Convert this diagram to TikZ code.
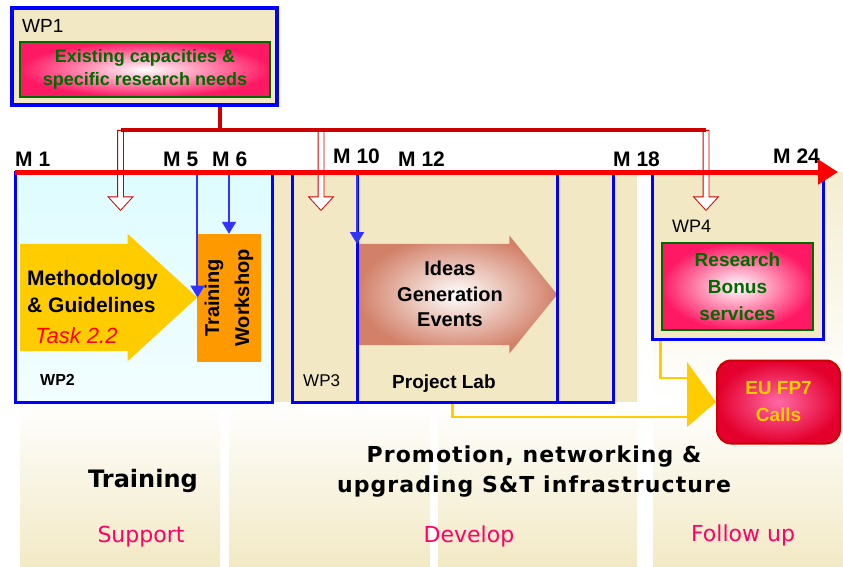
\documentclass[tikz,border=0pt]{standalone}
\usepackage{fontspec}
\setmainfont{Liberation Sans}
\newfontfamily\verd{DejaVu Sans}
\newfontfamily\verdwide[LetterSpace=5]{DejaVu Sans}
\usetikzlibrary{arrows.meta,shapes.arrows,calc}
\definecolor{wpblue}{RGB}{0,0,255}
\definecolor{lineblue}{RGB}{51,51,255}
\definecolor{beige}{RGB}{242,233,196}
\definecolor{paleblue}{RGB}{222,252,255}
\definecolor{hotpink}{RGB}{255,25,100}
\definecolor{darkgreen}{RGB}{0,105,0}
\definecolor{barred}{RGB}{204,0,0}
\definecolor{tlred}{RGB}{255,0,0}
\definecolor{gold}{RGB}{255,204,0}
\definecolor{orangebox}{RGB}{255,153,0}
\definecolor{salmon}{RGB}{210,128,104}
\definecolor{eured}{RGB}{228,0,45}
\definecolor{eupink}{RGB}{255,105,165}
\definecolor{labelpink}{RGB}{255,0,102}
\newcommand{\sz}[2]{\fontsize{#1}{#2}\selectfont}
\tikzset{%
    pink box/.style={%
        draw=darkgreen, line width=1.5pt, inner color=white, outer color=hotpink,
        text=darkgreen, font=\bfseries, align=center, inner sep=0pt},
    hollow arrow/.style={%
        single arrow, draw=barred, fill=white, line width=0.8pt,
        rotate=-90, minimum height=80pt,
        single arrow head extend=9.5pt, single arrow tip angle=85,
        inner xsep=0pt, inner ysep=2.5pt, anchor=tail}
}

\begin{document}
\begin{tikzpicture}[x=1pt,y=-1pt,
  wp box/.style={draw=wpblue,line width=3pt,inner sep=0pt},
  big arrow/.style={single arrow,inner xsep=0pt,anchor=tail},
  blue arrow/.style={draw=lineblue,line width=2pt,-{Triangle[length=12pt,width=14pt]}},
  divider/.style={draw=wpblue,line width=3pt},
  gold line/.style={draw=gold,line width=2.5pt},
  red bar/.style={draw=barred,line width=4pt},
  mile/.style={anchor=base west,font=\bfseries\sz{21}{25},inner sep=0pt},
  wp label/.style={anchor=base west,inner sep=0pt},
  phase/.style={anchor=base,font=\verd\sz{22}{26},text=labelpink,inner sep=0pt}]

  \useasboundingbox (0,0) rectangle (843,567);

  % columns behind everything
  \foreach \xa/\xb in {20/220,229/430,438/637,653/843}
    \fill[top color=white,bottom color=beige] (\xa,402) rectangle (\xb,567);
  \fill[beige] (272,172) rectangle (637,402);
  \fill[top color=beige!80,bottom color=white] (653,172) rectangle (843,402);

  \node[wp box,minimum width=257pt,minimum height=230pt,
        top color=paleblue,bottom color=white!60!paleblue] (wp2) at (143.5,287) {};
  \node[wp box,fill=beige,minimum width=321pt,minimum height=230pt] (wp3) at (452.5,287) {};
  \node[wp box,fill=beige,minimum width=171pt,minimum height=167pt] (wp4) at (737.5,255.5) {};

  % WP2
  \node[big arrow,fill=gold,minimum height=177pt,inner ysep=53.5pt,
        single arrow head extend=10pt,single arrow tip angle=85] (meth) at (20,297.5) {};
  \node[anchor=west,align=left,font=\bfseries\sz{21}{27},inner sep=0pt] (methtxt) at (27,291) {Methodology\\\& Guidelines};
  \node[anchor=base west,font=\itshape\sz{22}{26},text=tlred,inner sep=0pt] (task) at (35,343) {Task 2.2};
  \node[fill=orangebox,minimum width=128pt,minimum height=64pt,rotate=90,align=center,
        font=\bfseries\sz{20}{30},inner sep=0pt] (tw) at (229,298) {Training\\Workshop};
  \draw[blue arrow] (meth.tip |- wp2.north) -- (meth.tip);
  \draw[blue arrow] (tw.east |- wp2.north) -- (tw.east);
  \node[wp label,font=\bfseries\sz{16}{19}] (wp2lab) at (40,385) {WP2};

  % WP3
  \node[big arrow,inner color=white,outer color=salmon,minimum height=200pt,inner ysep=50.5pt,
        single arrow head extend=8.5pt,single arrow tip angle=102] (ideas) at (357,294.5) {};
  \draw[divider] (ideas.tail |- wp3.north) -- (ideas.tail |- wp3.south);
  \draw[divider] (ideas.tip |- wp3.north) -- (ideas.tip |- wp3.south);
  \draw[blue arrow] (ideas.tail |- wp3.north) -- ($(ideas.tail)+(0,-50.5)$);
  \node[font=\bfseries\sz{20}{25.5},align=center] (ideastxt) at (450,294) {Ideas\\Generation\\Events};
  \node[wp label,font=\bfseries\sz{19}{22}] (lab) at (392,388) {Project Lab};
  \node[wp label,font=\sz{17}{20}] (wp3lab) at (303,386) {WP3};

  % WP4
  \node[wp label,font=\sz{18}{21}] (wp4lab) at (672,232) {WP4};
  \node[pink box,minimum width=151pt,minimum height=87pt,font=\bfseries\sz{19}{27}] (bonus) at (737.5,286.5) {Research\\Bonus\\services};

  % follow up
  \node[draw=barred,line width=2pt,rounded corners=14pt,inner color=eupink,outer color=eured,
        minimum width=123pt,minimum height=83pt,text=gold,align=center,
        font=\bfseries\sz{19}{27}] (eu) at (778.5,402) {EU FP7\\Calls};
  \coordinate (y1) at (687,378);
  \coordinate (y2) at (687,417);
  \draw[gold line] ([xshift=10pt]wp4.south west) |- (y1);
  \draw[gold line] (wp3.south) |- (y2);
  \fill[gold] (687,362) -- (eu.west) -- (687,427) -- cycle;

  % WP1 branches
  \node[hollow arrow] (ha1) at (120.5,130) {};
  \node[hollow arrow] (ha2) at (321,130) {};
  \node[hollow arrow] (ha3) at (706,130) {};
  \coordinate (j0) at (220,130);
  \draw[red bar] (ha1.tail) -- (ha3.tail);

  % time line
  \draw[draw=tlred,line width=5pt,-{Triangle[length=20pt,width=24pt]}] (15,172) -- (838,172);
  \foreach \lab/\xx/\yy [count=\i] in {M 1/15/166,M 5/163/166,M 6/212/166,M 10/333/163,
                                       M 12/398/166,M 18/613/166,M 24/773/163}
    \node[mile] (m\i) at (\xx,\yy) {\lab};

  % WP1
  \node[wp box,line width=4pt,fill=beige,minimum width=265pt,minimum height=97pt] (wp1) at (144.5,56.5) {};
  \draw[red bar] (wp1.south -| j0) -- (j0);
  \node[wp label,font=\sz{19}{22}] (wp1lab) at (22,33) {WP1};
  \node[pink box,minimum width=250pt,minimum height=55pt,font=\bfseries\sz{18}{23}] (needs) at (145,69.5) {Existing capacities \&\\specific research needs};

  % bottom
  \node[anchor=base,font=\verd\bfseries\sz{24}{28},inner sep=0pt] (train) at (143,487) {Training};
  \node[anchor=base,align=center,font=\verdwide\bfseries\sz{22}{30},inner sep=0pt] (promo) at (534,492) {Promotion, networking \&\\upgrading S\&T infrastructure};
  \node[phase] (sup) at (141,542) {Support};
  \node[phase] (dev) at (469,542) {Develop};
  \node[phase] (fol) at (743,541) {Follow up};
\end{tikzpicture}
\end{document}
